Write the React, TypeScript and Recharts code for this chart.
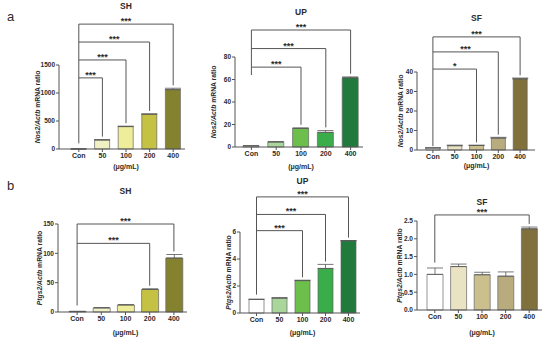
import { Bar, BarChart, Cell, ErrorBar, ReferenceLine, XAxis, YAxis } from "recharts";

const FONT = "Arial, 'Liberation Sans', sans-serif";
const INK = "#2b2b2b";
const LINE = "#555";

const doses = ["Con", "50", "100", "200", "400"];

// Nos2 (panel a)
const nos2ShMean = [1, 160, 400, 620, 1060];
const nos2ShErr = [0, 8, 8, 8, 25];
const nos2UpMean = [1, 4.4, 16.6, 13, 61.5];
const nos2UpErr = [0.2, 0.5, 0.3, 1.6, 0.8];
const nos2SfMean = [1, 2.2, 2.3, 6.1, 36.5];
const nos2SfErr = [0.2, 0.3, 0.2, 0.4, 0.4];

// Ptgs2 (panel b)
const ptgs2ShMean = [1, 7, 12, 38.5, 92];
const ptgs2ShErr = [0, 0.5, 0.5, 1, 6];
const ptgs2UpMean = [1.0, 1.1, 2.4, 3.3, 5.35];
const ptgs2UpErr = [0.03, 0.04, 0.03, 0.3, 0.02];
const ptgs2SfMean = [1.0, 1.22, 0.99, 0.95, 2.28];
const ptgs2SfErr = [0.18, 0.07, 0.07, 0.12, 0.05];

const shColors = ["#ffffff", "#f1f0c4", "#eeee9a", "#c5c243", "#84822f"];
const upColors = ["#ffffff", "#a9d69b", "#6cbf4a", "#3aad4b", "#207a3b"];
const sfColors = ["#ffffff", "#e9e3c4", "#cbc08d", "#b8ac7e", "#7f703c"];

type Bracket = { to: string; level: number; mark: string };

const nos2ShBrackets: Bracket[] = [
  { to: "50", level: 1270, mark: "***" },
  { to: "100", level: 1590, mark: "***" },
  { to: "200", level: 1910, mark: "***" },
  { to: "400", level: 2230, mark: "***" },
];
const nos2UpBrackets: Bracket[] = [
  { to: "100", level: 71, mark: "***" },
  { to: "200", level: 87.5, mark: "***" },
  { to: "400", level: 104, mark: "***" },
];
const nos2SfBrackets: Bracket[] = [
  { to: "100", level: 41.5, mark: "*" },
  { to: "200", level: 50.3, mark: "***" },
  { to: "400", level: 58, mark: "***" },
];
const ptgs2ShBrackets: Bracket[] = [
  { to: "200", level: 117, mark: "***" },
  { to: "400", level: 150, mark: "***" },
];
const ptgs2UpBrackets: Bracket[] = [
  { to: "100", level: 6.1, mark: "***" },
  { to: "200", level: 7.3, mark: "***" },
  { to: "400", level: 8.6, mark: "***" },
];
const ptgs2SfBrackets: Bracket[] = [{ to: "400", level: 2.67, mark: "***" }];

type PanelCfg = {
  title: string;
  gene: string;
  mean: number[];
  err: number[];
  colors: string[];
  brackets: Bracket[];
  conFoot: number;
  max: number;
  ticks: number[];
  fmt?: (v: number) => string;
  rowTop: number;
  axisX: number;
  plotTop: number;
  zeroY: number;
  plotRight: number;
  padL: number;
  padR: number;
  barSize: number;
  titleY: number;
  unitY: number;
  labelGap: number;
};

const panels: PanelCfg[] = [
  {
    title: "SH", gene: "Nos2", mean: nos2ShMean, err: nos2ShErr, colors: shColors,
    brackets: nos2ShBrackets, conFoot: 100, max: 1500, ticks: [0, 500, 1000, 1500],
    rowTop: 0, axisX: 59, plotTop: 65, zeroY: 149, plotRight: 185, padL: 8, padR: 0,
    barSize: 15, titleY: 6, unitY: 167, labelGap: 21,
  },
  {
    title: "UP", gene: "Nos2", mean: nos2UpMean, err: nos2UpErr, colors: upColors,
    brackets: nos2UpBrackets, conFoot: 64, max: 80, ticks: [0, 20, 40, 60, 80],
    rowTop: 0, axisX: 235, plotTop: 57, zeroY: 147, plotRight: 363, padL: 4, padR: 0,
    barSize: 16, titleY: 12, unitY: 167, labelGap: 21,
  },
  {
    title: "SF", gene: "Nos2", mean: nos2SfMean, err: nos2SfErr, colors: sfColors,
    brackets: nos2SfBrackets, conFoot: 2, max: 40, ticks: [0, 10, 20, 30, 40],
    rowTop: 0, axisX: 417, plotTop: 72, zeroY: 150, plotRight: 535, padL: 5, padR: 4,
    barSize: 14, titleY: 18, unitY: 166, labelGap: 16,
  },
  {
    title: "SH", gene: "Ptgs2", mean: ptgs2ShMean, err: ptgs2ShErr, colors: shColors,
    brackets: ptgs2ShBrackets, conFoot: 11, max: 150, ticks: [0, 50, 100, 150],
    rowTop: 172, axisX: 58, plotTop: 224, zeroY: 312, plotRight: 187, padL: 7, padR: 1,
    barSize: 17, titleY: 191, unitY: 333, labelGap: 18,
  },
  {
    title: "UP", gene: "Ptgs2", mean: ptgs2UpMean, err: ptgs2UpErr, colors: upColors,
    brackets: ptgs2UpBrackets, conFoot: 1.36, max: 6, ticks: [0, 2, 4, 6],
    rowTop: 172, axisX: 240, plotTop: 232, zeroY: 313, plotRight: 360, padL: 5, padR: 0,
    barSize: 15, titleY: 181, unitY: 333, labelGap: 11,
  },
  {
    title: "SF", gene: "Ptgs2", mean: ptgs2SfMean, err: ptgs2SfErr, colors: sfColors,
    brackets: ptgs2SfBrackets, conFoot: 1.33, max: 2.5, ticks: [0, 0.5, 1, 1.5, 2, 2.5],
    fmt: (v) => v.toFixed(1),
    rowTop: 172, axisX: 417, plotTop: 221, zeroY: 310, plotRight: 542, padL: 6, padR: 1,
    barSize: 16, titleY: 202, unitY: 333, labelGap: 17,
  },
];

const xTickStyle = { fontSize: 7, fontWeight: 700, fill: INK, fontFamily: FONT };
const yTickStyle = { fontSize: 6.5, fontWeight: 700, fill: INK, fontFamily: FONT };
const Y_W = 30;
const X_H = 20;
const LEFT_ROOM = 35;

function Panel({ p }: { p: PanelCfg }) {
  const data = doses.map((d, i) => ({ dose: d, mean: p.mean[i], err: [0, p.err[i]] }));
  const width = p.plotRight - p.axisX + LEFT_ROOM + 6;
  const height = p.zeroY - p.rowTop + X_H;
  const gap = p.max * 0.035;
  const topLevel = Math.max(...p.brackets.map((b) => b.level));

  return (
    <div style={{ position: "absolute", left: p.axisX - LEFT_ROOM, top: p.rowTop }}>
      <BarChart
        width={width}
        height={height}
        data={data}
        margin={{ top: p.plotTop - p.rowTop, left: LEFT_ROOM - Y_W, right: 6, bottom: 0 }}
        barCategoryGap={0}
      >
        <XAxis
          dataKey="dose"
          height={X_H}
          padding={{ left: p.padL, right: p.padR }}
          interval={0}
          tickSize={3}
          tickMargin={1}
          axisLine={{ stroke: LINE }}
          tickLine={{ stroke: LINE }}
          tick={xTickStyle}
        />
        <YAxis
          type="number"
          width={Y_W}
          domain={[0, p.max]}
          ticks={p.ticks}
          interval={0}
          tickFormatter={p.fmt}
          tickSize={3}
          tickMargin={1}
          axisLine={{ stroke: LINE }}
          tickLine={{ stroke: LINE }}
          tick={yTickStyle}
        />
        <Bar dataKey="mean" barSize={p.barSize} stroke="#666" strokeWidth={0.7} isAnimationActive={false}>
          {data.map((d, i) => (
            <Cell key={d.dose} fill={p.colors[i]} />
          ))}
          <ErrorBar dataKey="err" direction="y" width={8} stroke={LINE} strokeWidth={0.8} />
        </Bar>
        <ReferenceLine
          segment={[
            { x: "Con", y: p.conFoot },
            { x: "Con", y: topLevel },
          ]}
          stroke={LINE}
          strokeWidth={1}
          ifOverflow="visible"
        />
        {p.brackets.map((b) => {
          const i = doses.indexOf(b.to);
          const foot = p.mean[i] + p.err[i] + gap;
          return [
            <ReferenceLine
              key={b.to + "-h"}
              segment={[
                { x: "Con", y: b.level },
                { x: b.to, y: b.level },
              ]}
              stroke={LINE}
              strokeWidth={1}
              ifOverflow="visible"
              label={{
                value: b.mark,
                position: "top",
                offset: 0,
                fontSize: 9,
                fontWeight: 700,
                fill: INK,
                fontFamily: FONT,
              }}
            />,
            <ReferenceLine
              key={b.to + "-v"}
              segment={[
                { x: b.to, y: foot },
                { x: b.to, y: b.level },
              ]}
              stroke={LINE}
              strokeWidth={1}
              ifOverflow="visible"
            />,
          ];
        })}
      </BarChart>
    </div>
  );
}

function Texts() {
  return (
    <svg
      width={550}
      height={341}
      style={{ position: "absolute", left: 0, top: 0, pointerEvents: "none" }}
      fontFamily={FONT}
    >
      <text x={7} y={21} fontSize={13} fill={INK}>a</text>
      <text x={7} y={190} fontSize={13} fill={INK}>b</text>
      {panels.map((p, k) => {
        const cx = (p.axisX + p.padL + p.plotRight - p.padR) / 2;
        const lx = p.axisX - p.labelGap;
        const ly = (p.plotTop + p.zeroY) / 2;
        return (
          <g key={k}>
            <text x={cx} y={p.titleY} dy="0.35em" textAnchor="middle" fontSize={8.5} fontWeight={700} fill={INK}>
              {p.title}
            </text>
            <text x={cx} y={p.unitY} dy="0.35em" textAnchor="middle" fontSize={7} fontWeight={700} fill={INK}>
              (μg/mL)
            </text>
            <text
              x={lx}
              y={ly}
              dy="0.35em"
              textAnchor="middle"
              fontSize={6.8}
              fontWeight={700}
              fill={INK}
              transform={`rotate(-90 ${lx} ${ly})`}
            >
              <tspan fontStyle="italic">{p.gene}/Actb</tspan>
              <tspan> mRNA ratio</tspan>
            </text>
          </g>
        );
      })}
    </svg>
  );
}

export default function App() {
  return (
    <div
      style={{
        position: "fixed",
        left: 0,
        top: 0,
        width: 550,
        height: 341,
        background: "#fff",
        overflow: "hidden",
      }}
    >
      {panels.map((p, k) => (
        <Panel key={k} p={p} />
      ))}
      <Texts />
    </div>
  );
}
